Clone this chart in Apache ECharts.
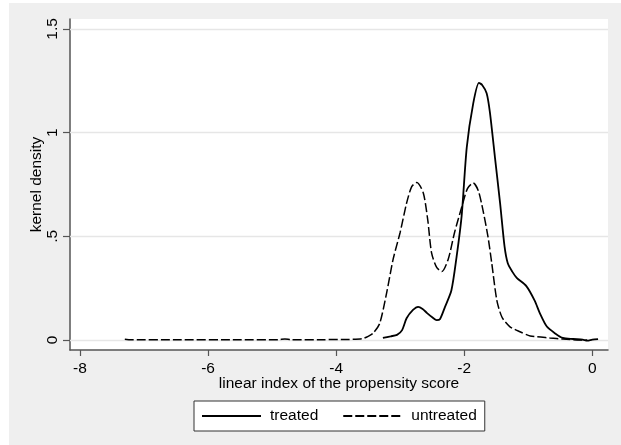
<!DOCTYPE html>
<html><head><meta charset="utf-8">
<script src="https://cdn.jsdelivr.net/npm/echarts@6/dist/echarts.min.js"></script>
<style>html,body{margin:0;padding:0;background:#fff}#c{width:621px;height:445px}</style>
</head><body><div id="c"></div>
<script>
const xTicks = [-8, -6, -4, -2, 0];
const yTicks = [0, 0.5, 1, 1.5];
const yTickLabels = ['0', '.5', '1', '1.5'];
const seriesNames = ['treated', 'untreated'];
const treatedX = [-3.27,-3.15,-3.05,-2.97,-2.90,-2.80,-2.72,-2.65,-2.58,-2.50,-2.43,-2.38,-2.30,-2.20,-2.12,-2.04,-1.96,-1.86,-1.77,-1.72,-1.65,-1.60,-1.52,-1.44,-1.37,-1.32,-1.25,-1.18,-1.03,-0.90,-0.82,-0.71,-0.58,-0.46,-0.30,-0.15,-0.08,0.00,0.09];
const treatedY = [0.010,0.018,0.025,0.048,0.105,0.145,0.160,0.150,0.130,0.110,0.096,0.100,0.160,0.240,0.400,0.600,0.930,1.140,1.240,1.230,1.190,1.100,0.880,0.660,0.450,0.370,0.330,0.300,0.260,0.190,0.130,0.065,0.032,0.010,0.005,0.002,-0.003,0.002,0.004];
const untreatedX = [-7.30,-7.20,-6.50,-5.50,-4.90,-4.80,-4.70,-4.20,-3.80,-3.60,-3.50,-3.42,-3.32,-3.21,-3.11,-3.00,-2.90,-2.82,-2.74,-2.64,-2.57,-2.51,-2.43,-2.35,-2.25,-2.15,-2.04,-1.95,-1.86,-1.78,-1.71,-1.63,-1.57,-1.49,-1.41,-1.29,-1.13,-0.97,-0.66,-0.46,-0.19,-0.08];
const untreatedY = [0.004,0.001,0.001,0.001,0.002,0.005,0.002,0.002,0.003,0.006,0.018,0.034,0.080,0.230,0.390,0.520,0.660,0.740,0.760,0.710,0.580,0.420,0.350,0.330,0.390,0.520,0.640,0.730,0.757,0.720,0.630,0.500,0.370,0.190,0.110,0.065,0.040,0.020,0.010,0.005,0.000,0.000];

const pairs = (xs, ys) => xs.map((x, i) => [x, ys[i]]);
const font = 'Liberation Sans, Arial, sans-serif';
const fs = 15.5;
const axisColor = '#555555';

const chart = echarts.init(document.getElementById('c'), null, {renderer: 'canvas'});
chart.setOption({
  animation: false,
  backgroundColor: '#ffffff',
  graphic: [{type: 'rect', z: -10, shape: {x: 9, y: 3, width: 612, height: 442}, style: {fill: '#efefef'}}],
  grid: {left: 70, top: 19, right: 13, bottom: 95, show: true, backgroundColor: '#ffffff', borderWidth: 0},
  legend: {
    left: 194, top: 401, padding: [7, 8, 7, 7], itemGap: 24, itemWidth: 59, itemHeight: 14,
    backgroundColor: '#ffffff', borderColor: '#333333', borderWidth: 1, borderRadius: 0,
    itemStyle: {opacity: 0},
    textStyle: {fontFamily: font, fontSize: fs, color: '#000', padding: [0, 0, 0, 4]},
    data: seriesNames
  },
  xAxis: {
    type: 'value', min: -8.156, max: 0.245,
    name: 'linear index of the propensity score', nameLocation: 'middle', nameGap: 26, nameMoveOverlap: false,
    nameTextStyle: {fontFamily: font, fontSize: fs, color: '#000'},
    axisLine: {show: true, onZero: false, lineStyle: {color: axisColor, width: 1.5}},
    axisTick: {show: true, length: 6, customValues: xTicks, lineStyle: {color: axisColor, width: 1.2}},
    axisLabel: {customValues: xTicks, fontFamily: font, fontSize: fs, color: '#000', margin: 11,
      formatter: v => String(Math.round(v))},
    splitLine: {show: false}
  },
  yAxis: {
    type: 'value', min: -0.048, max: 1.548,
    name: 'kernel density', nameLocation: 'middle', nameGap: 25, nameMoveOverlap: false,
    nameTextStyle: {fontFamily: font, fontSize: fs, color: '#000'},
    axisLine: {show: true, onZero: false, lineStyle: {color: axisColor, width: 1.5}},
    axisTick: {show: true, length: 7, customValues: yTicks, lineStyle: {color: axisColor, width: 1.2}},
    axisLabel: {customValues: yTicks, rotate: 90, fontFamily: font, fontSize: fs, color: '#000', margin: 9,
      formatter: v => { const i = yTicks.findIndex(t => Math.abs(t - v) < 1e-6); return i >= 0 ? yTickLabels[i] : ''; }},
    splitLine: {show: false}
  },
  series: [
    {
      name: seriesNames[0], type: 'line', data: pairs(treatedX, treatedY), symbol: 'none', smooth: 0.25,
      lineStyle: {color: '#000', width: 1.8, type: 'solid'}, itemStyle: {color: '#000', opacity: 0}, z: 5,
      markLine: {silent: true, symbol: 'none', label: {show: false}, z: 1,
        lineStyle: {color: '#e6e6e6', width: 1.3, type: 'solid'},
        data: yTicks.map(t => ({yAxis: t}))}
    },
    {
      name: seriesNames[1], type: 'line', data: pairs(untreatedX, untreatedY), symbol: 'none', smooth: 0.25,
      lineStyle: {color: '#000', width: 1.5, type: [9, 3]}, itemStyle: {color: '#000', opacity: 0}, z: 4
    }
  ]
});
</script></body></html>
